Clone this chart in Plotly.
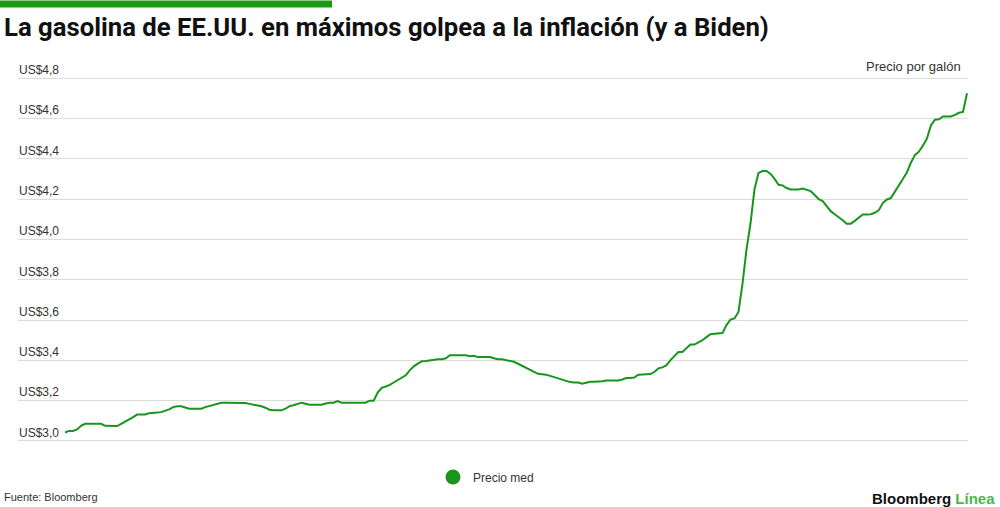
import plotly.graph_objects as go

# ---- data ----
precio_med = [
    3.042, 3.05, 3.05, 3.057, 3.075, 3.085, 3.085, 3.085, 3.085, 3.085,
    3.075, 3.074, 3.074, 3.074, 3.085, 3.095, 3.105, 3.118, 3.131, 3.131,
    3.131, 3.138, 3.141, 3.141, 3.143, 3.15, 3.157, 3.168, 3.172, 3.172,
    3.165, 3.16, 3.16, 3.16, 3.16, 3.168, 3.173, 3.177, 3.185, 3.19,
    3.19, 3.19, 3.19, 3.19, 3.19, 3.188, 3.184, 3.18, 3.179, 3.172,
    3.165, 3.155, 3.152, 3.152, 3.152, 3.16, 3.173, 3.177, 3.183, 3.19,
    3.185, 3.18, 3.18, 3.18, 3.18, 3.186, 3.19, 3.19, 3.198, 3.19,
    3.19, 3.19, 3.19, 3.19, 3.19, 3.19, 3.20, 3.20, 3.24, 3.264,
    3.27, 3.278, 3.29, 3.302, 3.315, 3.326, 3.35, 3.37, 3.384, 3.395,
    3.397, 3.40, 3.405, 3.405, 3.405, 3.41, 3.425, 3.425, 3.425, 3.425,
    3.425, 3.42, 3.423, 3.416, 3.416, 3.416, 3.416, 3.41, 3.405, 3.405,
    3.40, 3.395, 3.393, 3.383, 3.373, 3.363, 3.352, 3.339, 3.333, 3.331,
    3.329, 3.323, 3.317, 3.312, 3.305, 3.297, 3.292, 3.29, 3.29, 3.284,
    3.29, 3.294, 3.294, 3.294, 3.296, 3.30, 3.30, 3.30, 3.30, 3.305,
    3.312, 3.312, 3.315, 3.329, 3.329, 3.329, 3.332, 3.342, 3.36, 3.365,
    3.375, 3.40, 3.42, 3.441, 3.441, 3.46, 3.478, 3.478, 3.487, 3.50,
    3.515, 3.53, 3.532, 3.532, 3.535, 3.575, 3.602, 3.608, 3.64, 3.78,
    3.95, 4.08, 4.25, 4.33, 4.339, 4.339, 4.325, 4.30, 4.271, 4.268,
    4.255, 4.248, 4.248, 4.248, 4.252, 4.245, 4.24, 4.22, 4.20, 4.19,
    4.162, 4.14, 4.125, 4.112, 4.095, 4.078, 4.078, 4.092, 4.108, 4.124,
    4.124, 4.125, 4.132, 4.145, 4.18, 4.198, 4.205, 4.235, 4.27, 4.30,
    4.332, 4.38, 4.418, 4.435, 4.465, 4.50, 4.565, 4.594, 4.596, 4.61,
    4.61, 4.61, 4.618, 4.628, 4.632, 4.725,
]
periodo = list(range(len(precio_med)))
y_ticks = [3.0, 3.2, 3.4, 3.6, 3.8, 4.0, 4.2, 4.4, 4.6, 4.8]
y_tick_labels = ["US$3,0", "US$3,2", "US$3,4", "US$3,6", "US$3,8",
                 "US$4,0", "US$4,2", "US$4,4", "US$4,6", "US$4,8"]

titulo = "La gasolina de EE.UU. en máximos golpea a la inflación (y a Biden)"
unidad = "Precio por galón"
serie = "Precio med"
fuente = "Fuente: Bloomberg"

GREEN = "#18951c"
FONT = "Liberation Sans, Arial, sans-serif"

fig = go.Figure()
fig.add_trace(go.Scatter(
    x=periodo, y=precio_med, mode="lines",
    line=dict(color=GREEN, width=2),
    name=serie, showlegend=False, hoverinfo="y",
))
# legend entry (circle symbol)
fig.add_trace(go.Scatter(
    x=[None], y=[None], mode="markers",
    marker=dict(color=GREEN, size=15, symbol="circle"),
    name=serie, showlegend=True,
))

W, H = 1000, 507
Y_LO, Y_HI = 2.98, 4.88
L, R, T, B = 18, 32, 61.5, 62.3
pw = W - L - R
ph = H - T - B

def px_x(px):
    return (px - L) / pw

def px_y(py):
    return (H - B - py) / ph

n = len(precio_med)
step = (967 - 65) / (n - 1)
x0 = (L - 65) / step
x1 = (W - R - 65) / step

fig.update_layout(
    width=W, height=H,
    margin=dict(l=L, r=R, t=T, b=B, pad=0, autoexpand=False),
    paper_bgcolor="white", plot_bgcolor="white",
    font=dict(family=FONT, size=12, color="#333333"),
    title=dict(
        text="<b>" + titulo + "</b>",
        x=4 / W, xanchor="left", xref="container",
        y=1 - 27 / H, yanchor="middle", yref="container",
        font=dict(family="Roboto, Liberation Sans, sans-serif", size=25.7, color="#111111"),
    ),
    xaxis=dict(range=[x0, x1], showgrid=False, zeroline=False,
               showticklabels=False, showline=False, ticks=""),
    yaxis=dict(range=[Y_LO, Y_HI], tickvals=y_ticks, ticktext=y_tick_labels,
               showgrid=True, gridcolor="#dcdcdc", gridwidth=1.3,
               zeroline=False, showline=False, ticks="",
               ticklabelposition="inside top", ticklabelstandoff=-2,
               tickfont=dict(size=12, color="#333333")),
    legend=dict(orientation="h", x=486 / W, xanchor="center", xref="container",
                y=1 - 477 / H, yanchor="middle", yref="container",
                font=dict(size=12, color="#333333"),
                itemwidth=30, bgcolor="rgba(0,0,0,0)"),
    showlegend=True,
)

# green bar at top-left
fig.add_shape(type="rect", xref="paper", yref="paper",
              x0=px_x(0), x1=px_x(332), y0=px_y(7), y1=px_y(0),
              fillcolor="#1b9a12", line=dict(width=0), layer="above")

fig.add_annotation(text=unidad, xref="paper", yref="paper",
                   x=px_x(963), y=px_y(66), xanchor="right", yanchor="middle",
                   showarrow=False, font=dict(size=13, color="#333333"))
fig.add_annotation(text=fuente, xref="paper", yref="paper",
                   x=px_x(2), y=px_y(497), xanchor="left", yanchor="middle",
                   showarrow=False, font=dict(size=11, color="#333333"))
fig.add_annotation(text="<b>Bloomberg</b> <b><span style='color:#4cb848'>Línea</span></b>",
                   xref="paper", yref="paper",
                   x=px_x(997), y=px_y(498), xanchor="right", yanchor="middle",
                   showarrow=False, font=dict(size=15, color="#111111"))

fig.write_html("out.html", config={"displayModeBar": False},
               post_script="document.body.style.margin='0';")
